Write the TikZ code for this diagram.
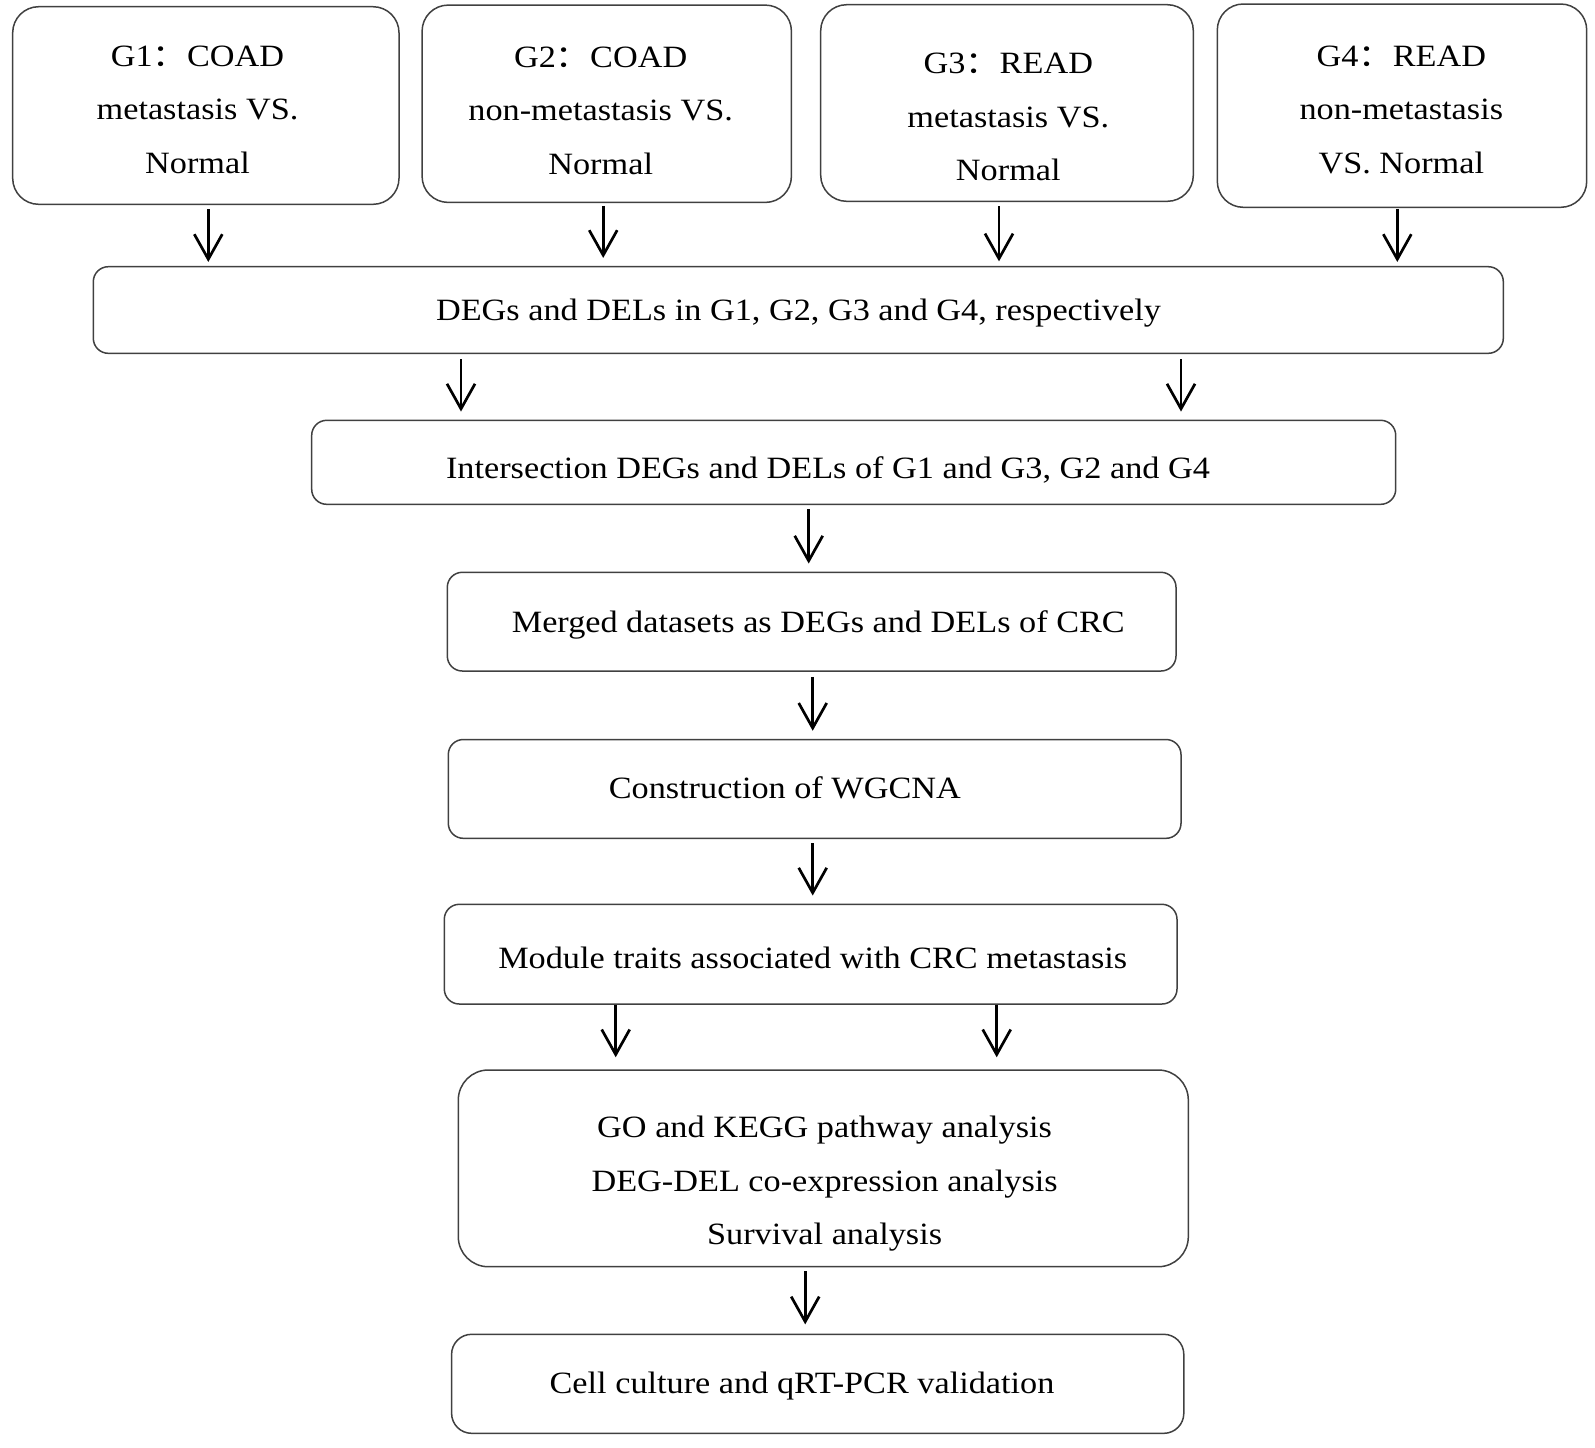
\documentclass[tikz,border=0pt]{standalone}
\usepackage{fontspec}
\setmainfont{Liberation Serif}[FakeStretch=1.105]
\newfontfamily\cjk{Noto Sans CJK SC}[FakeStretch=1.105]
\usetikzlibrary{arrows.meta,fit}

\tikzset{
  box/.style={draw=black!75, line width=0.75pt, rounded corners=7.5pt, inner sep=0pt},
  bigbox/.style={box, rounded corners=13pt},
  txt/.style={align=center, inner sep=0pt, font=\fontsize{15.5}{26.7}\selectfont},
  arr/.style={-{Straight Barb[length=12.5pt,width=14pt]}, line width=1.35pt, shorten <=2pt, shorten >=4pt},
}
\newcommand{\gcolon}{{\cjk ：}}

\begin{document}
\begin{tikzpicture}[x=0.5pt, y=-0.5pt]
\useasboundingbox (0,0) rectangle (1595,1447);

% the four groups
\node[bigbox, fit={(12.7,6.7) (399,204.3)}] (g1) {};
\node[bigbox, fit={(422.1,5.1) (791.4,202.4)}] (g2) {};
\node[bigbox, fit={(820.7,4.7) (1193.3,201.3)}] (g3) {};
\node[bigbox, fit={(1217.3,4) (1586.7,207.3)}] (g4) {};
\node[txt] (g1t) at (197.5,109.8) {G1\gcolon COAD\\metastasis VS.\\Normal};
\node[txt] (g2t) at (600.7,110.6) {G2\gcolon COAD\\non-metastasis VS.\\Normal};
\node[txt] (g3t) at (1008.3,117.1) {G3\gcolon READ\\metastasis VS.\\Normal};
\node[txt] (g4t) at (1401.3,109.8) {G4\gcolon READ\\non-metastasis\\VS. Normal};

% workflow steps
\node[box, fit={(93.3,266.7) (1503.3,353.3)}] (degs) {};
\node[txt] (degst) at (798.5,312.6) {DEGs and DELs in G1, G2, G3 and G4, respectively};
\node[box, fit={(311.7,420.3) (1395.7,504.3)}] (inter) {};
\node[txt] (intert) at (828,470) {Intersection DEGs and DELs of G1 and G3, G2 and G4};
\node[box, fit={(447.3,572.3) (1176,671)}] (merged) {};
\node[txt] (mergedt) at (818.3,624.6) {Merged datasets as DEGs and DELs of CRC};
\node[box, fit={(448.3,739.5) (1181,838.3)}] (wgcna) {};
\node[txt] (wgcnat) at (784.8,787.9) {Construction of WGCNA};
\node[box, fit={(444.3,904.3) (1177,1004)}] (module) {};
\node[txt] (modulet) at (812.7,957.9) {Module traits associated with CRC metastasis};
\node[box, rounded corners=15pt, fit={(458.3,1070) (1188.3,1266.7)}] (anal) {};
\node[txt] (analt) at (824.6,1183.6) {GO and KEGG pathway analysis\\DEG-DEL co-expression analysis\\Survival analysis};
\node[box, rounded corners=10pt, fit={(451.6,1334.3) (1183.8,1433.3)}] (valid) {};
\node[txt] (validt) at (802,1386.2) {Cell culture and qRT-PCR validation};

% arrows
\draw[arr, shorten >=2pt] (g1.south -| 208.3,0) -- (degs.north -| 208.3,0);
\draw[arr, shorten <=1.3pt] (g2.south -| 603.2,0) -- (degs.north -| 603.2,0);
\draw[arr, shorten >=2.3pt] (g3.south -| 999,0) -- (degs.north -| 999,0);
\draw[arr, shorten <=0.4pt, shorten >=2pt] (g4.south -| 1397.3,0) -- (degs.north -| 1397.3,0);
\draw[arr, shorten <=2.5pt] (degs.south -| 461,0) -- (inter.north -| 461,0);
\draw[arr, shorten <=2.5pt] (degs.south -| 1181,0) -- (inter.north -| 1181,0);
\draw[arr] (inter.south -| 808.7,0) -- (merged.north -| 808.7,0);
\draw[arr, shorten <=2.5pt] (merged.south -| 812.7,0) -- (wgcna.north -| 812.7,0);
\draw[arr] (wgcna.south -| 812.7,0) -- (module.north -| 812.7,0);
\draw[arr, shorten <=0pt, shorten >=6pt] (module.south -| 615.7,0) -- (anal.north -| 615.7,0);
\draw[arr, shorten <=0pt, shorten >=6pt] (module.south -| 996.7,0) -- (anal.north -| 996.7,0);
\draw[arr, shorten >=4.6pt] (anal.south -| 805.2,0) -- (valid.north -| 805.2,0);
\end{tikzpicture}
\end{document}
